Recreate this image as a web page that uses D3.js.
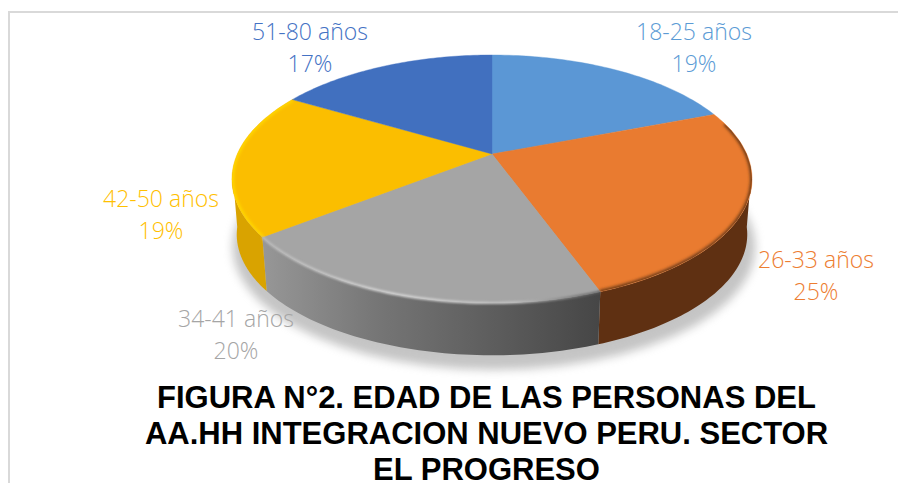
<!DOCTYPE html>
<html><head><meta charset="utf-8">
<script src="https://cdn.jsdelivr.net/npm/d3@7"></script>
<style>html,body{margin:0;padding:0;background:#fff}svg{display:block}</style></head>
<body><svg id="c" width="898" height="483"></svg>
<script>
const categories=["18-25 años","26-33 años","34-41 años","42-50 años","51-80 años"];
const values=[19.2,25.2,20.1,18.9,16.6];
const colors=["#5b97d5","#e97b30","#a5a5a5","#fbbe00","#4170bf"];
const sideColors=["#3f6f9c","#5f3012","#6b6b6b","#d9a300","#2f5290"];
const rimColors=["#5b97d5","#6d3a16","url(#gh)","#ffd800","#4170bf"];
const labelColors=["#5b9bd5","#ed7d31","#a5a5a5","#ffc000","#4472c4"];
const labelPos=[[694,32],[816,260],[236,319],[161,199],[310,32]];
const titleLines=["FIGURA N°2. EDAD DE LAS PERSONAS DEL","AA.HH INTEGRACION NUEVO PERU. SECTOR","EL PROGRESO"];
const titleBaselines=[408,444,479.5];

const svg=d3.select("#c");
const defs=svg.append("defs");
const blur=(id,s)=>defs.append("filter").attr("id",id).attr("x","-20%").attr("y","-20%").attr("width","140%").attr("height","140%")
  .append("feGaussianBlur").attr("stdDeviation",s);
blur("sh",5);blur("b2",1.6);blur("b1",.8);
const grad=(id,x1,x2,stops)=>{const g=defs.append("linearGradient").attr("id",id).attr("gradientUnits","userSpaceOnUse")
  .attr("x1",x1).attr("x2",x2).attr("y1",0).attr("y2",0);
  stops.forEach(s=>g.append("stop").attr("offset",s[0]).attr("stop-color",s[1]));};
grad("gs",262,600,[[0,"#979797"],[.35,"#757575"],[.7,"#5c5c5c"],[1,"#464646"]]);
grad("gh",262,600,[[0,"#bdbdbd"],[.4,"#dcdcdc"],[.75,"#c4c4c4"],[1,"#5a5a5a"]]);

// frame
svg.append("path").attr("d","M9 483V12H898").attr("fill","none").attr("stroke","#d9d9d9").attr("stroke-width",2);

// perspective projection of a disc
const k=0.2016, apex=[492,154];
const proj=(a,A,B,cx,cy)=>{const u=Math.sin(a),v=-Math.cos(a),w=1-k*v;return [cx+A*u/w,cy+B*v/w];};
const topP=a=>proj(a,254.7,118.96,apex[0],apex[1]);
const botP=a=>proj(a,250,116,492,210);
const pie=d3.pie().sort(null)(values);
const samples=(a0,a1)=>d3.range(0,61).map(i=>a0+(a1-a0)*i/60);
const line=d3.line();

// shadow
svg.append("path").attr("d",line(samples(0,2*Math.PI).map(a=>proj(a,256,118,494,222)))+"Z")
  .attr("fill","#8a8a8a").attr("opacity",.5).attr("filter","url(#sh)");

// side walls (front half only)
const R=Math.acos(-k), L=Math.PI*2-R;
pie.forEach((d,i)=>{
  const a0=Math.max(d.startAngle,R-.06),a1=Math.min(d.endAngle,L+.06);
  if(a1<=a0)return;
  const s=samples(a0,a1);
  svg.append("path").attr("d",line(s.map(topP).concat(s.slice().reverse().map(botP)))+"Z")
    .attr("fill",i===2?"url(#gs)":sideColors[i]);
});

// top faces
defs.append("clipPath").attr("id","tc").append("path").attr("d",line(samples(0,2*Math.PI).map(topP))+"Z");
pie.forEach((d,i)=>{
  const s=samples(d.startAngle,d.endAngle);
  svg.append("path").attr("d",line([apex].concat(s.map(topP)))+"Z")
    .attr("fill",colors[i]).attr("stroke",colors[i]).attr("stroke-width",.4);
});
// bevel on the rim
const rim=svg.append("g").attr("clip-path","url(#tc)");
pie.forEach((d,i)=>{
  if(i===0||i===4||i===2)return;
  const a0=i===1?Math.max(d.startAngle,1.3):d.startAngle;
  rim.append("path").attr("d",line(samples(a0,d.endAngle).map(topP))).attr("fill","none")
    .attr("stroke",rimColors[i]).attr("stroke-width",4).attr("filter","url(#b2)");
});
// grey highlight straddles the rounded edge
svg.append("path").attr("d",line(samples(pie[2].startAngle,pie[2].endAngle).map(topP))).attr("fill","none")
  .attr("stroke",rimColors[2]).attr("stroke-width",2.2).attr("filter","url(#b1)");

// labels
const labels=svg.append("g").attr("font-family","'Open Sans',sans-serif").attr("font-size",23).attr("font-weight",300).attr("text-anchor","middle");
categories.forEach((c,i)=>{
  const t=labels.append("text").attr("fill",labelColors[i]);
  t.append("tspan").attr("x",labelPos[i][0]).attr("y",labelPos[i][1]+8).text(c);
  t.append("tspan").attr("x",labelPos[i][0]).attr("y",labelPos[i][1]+40).text(Math.round(values[i])+"%");
});

// title
svg.append("g").attr("font-family","'Liberation Sans',Arial,sans-serif").attr("font-weight","700").attr("font-size",31).attr("text-anchor","middle").attr("fill","#000")
  .selectAll("text").data(titleLines).join("text").attr("x",486.5).attr("y",(d,i)=>titleBaselines[i]).text(d=>d);
</script></body></html>
